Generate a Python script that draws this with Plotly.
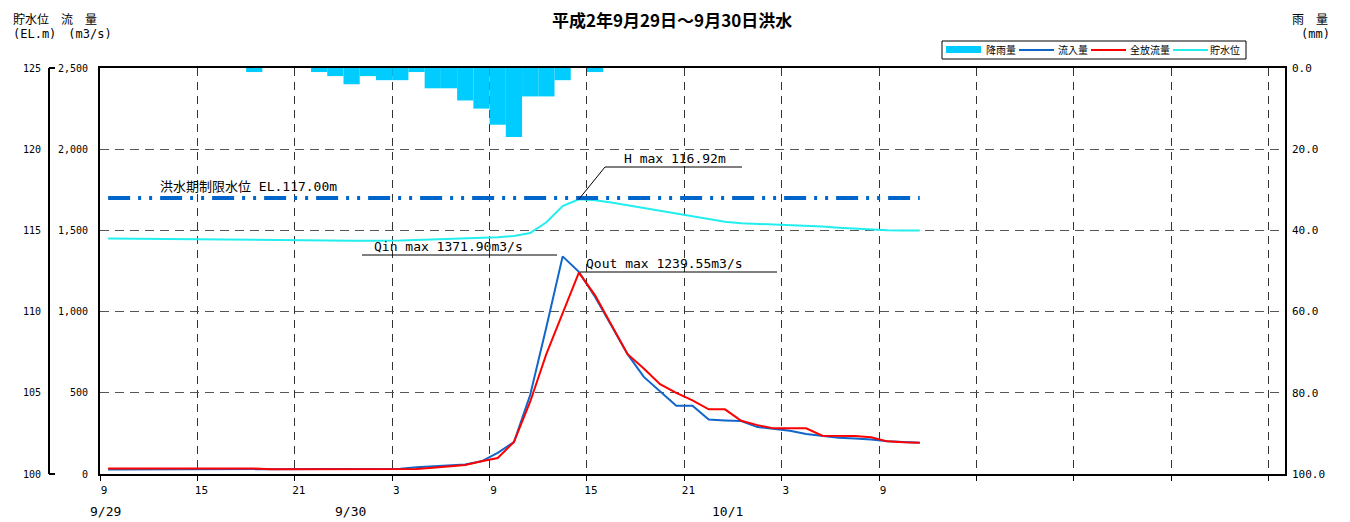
import pandas as pd
import plotly.graph_objects as go

# hourly readings, plotted at the middle of each hour slot
TIMES = pd.date_range("1990-09-29 09:30", periods=51, freq="h")

RAIN = [0, 0, 0, 0, 0, 0, 0, 0, 0, 1,
        0, 0, 0, 1, 2, 4, 2, 3, 3, 1,
        5, 5, 8, 10, 14, 17, 7, 7, 3, 0,
        1, 0, 0, 0, 0, 0, 0, 0, 0, 0,
        0, 0, 0, 0, 0, 0, 0, 0, 0, 0,
        0]

INFLOW = [28, 28, 28, 28, 28, 28, 28, 28, 28, 28,
          28, 28, 28, 28, 28, 28, 28, 28, 32, 42,
          48, 52, 58, 78, 130, 197, 486, 905, 1340, 1245,
          1090, 915, 738, 598, 506, 420, 420, 336, 330, 326,
          289, 279, 266, 246, 236, 223, 219, 213, 201, 195,
          193]

OUTFLOW = [34, 34, 34, 34, 34, 34, 34, 34, 34, 34,
           29, 29, 29, 29, 29, 29, 29, 29, 29, 31,
           38, 46, 55, 78, 98, 197, 445, 740, 990, 1240,
           1100, 915, 738, 650, 553, 500, 453, 398, 398, 328,
           301, 281, 281, 281, 236, 234, 234, 226, 201, 195,
           193]

LEVEL = [114.50, 114.49, 114.48, 114.47, 114.46, 114.44, 114.42, 114.41, 114.40, 114.40,
         114.39, 114.39, 114.38, 114.38, 114.37, 114.37, 114.37, 114.36, 114.38, 114.41,
         114.44, 114.47, 114.50, 114.53, 114.58, 114.66, 114.84, 115.50, 116.50, 116.92,
         116.85, 116.72, 116.55, 116.38, 116.18, 116.00, 115.85, 115.68, 115.53, 115.44,
         115.40, 115.37, 115.35, 115.29, 115.24, 115.17, 115.11, 115.05, 115.01, 114.99,
         114.99]

LIMIT_LEVEL = 117.00
H_MAX, QIN_MAX, QOUT_MAX = 116.92, 1371.90, 1239.55

X_START = pd.Timestamp("1990-09-29 09:00")
X_END = pd.Timestamp("1990-10-02 10:00")
TICKS = pd.date_range("1990-09-29 09:00", periods=13, freq="6h")
TICK_TEXT = ["9", "15", "21", "3", "9", "15", "21", "3", "9", "", "", "", ""]
DATE_LABELS = [("9/29", "1990-09-29 09:20"), ("9/30", "1990-09-30 00:25"), ("10/1", "1990-09-30 23:40")]

JP = "Noto Sans CJK JP"
MONO = "DejaVu Sans Mono, Noto Sans CJK JP"

# pixel helpers for the decorations (plot area spans x 49..1285, y 68..474 on screen)
def px_x(p):
    return (p - 49) / 1236


def px_y(p):
    return (474 - p) / 406


def t_at(p):
    return X_START + pd.Timedelta(hours=(p - 100) / (1185 / 73))


def lvl_at(p):
    return 100 + (474 - p) / 406 * 25


def note(x, y, text, font, xanchor="left"):
    fig.add_annotation(xref="paper", yref="paper", x=px_x(x), y=px_y(y), xanchor=xanchor,
                       yanchor="middle", showarrow=False, text=text, font=font)


fig = go.Figure()
fig.add_bar(x=TIMES, y=RAIN, yaxis="y3", width=3600000, marker_color="#00CCFF",
            marker_line_width=0, name="降雨量")
fig.add_scatter(x=TIMES, y=INFLOW, mode="lines", line=dict(color="#1166CC", width=2), name="流入量")
fig.add_scatter(x=TIMES, y=OUTFLOW, mode="lines", line=dict(color="#FF0000", width=2), name="全放流量")
fig.add_scatter(x=TIMES, y=LEVEL, yaxis="y2", mode="lines", line=dict(color="#22EEEE", width=2), name="貯水位")
fig.add_scatter(x=[TIMES[0], TIMES[-1]], y=[LIMIT_LEVEL, LIMIT_LEVEL], yaxis="y2", mode="lines",
                line=dict(color="#0066CC", width=4, dash="22px,8px,3px,8px,3px,8px"), name="制限水位")

# the page body adds an 8px offset, so the figure is 8px smaller and margins shifted
fig.update_layout(
    width=1342, height=514,
    margin=dict(l=41, r=65, t=60, b=48),
    plot_bgcolor="white", paper_bgcolor="white",
    showlegend=False,
    font=dict(family=MONO, color="black"),
    xaxis=dict(
        type="date", domain=[51 / 1236, 1], range=[X_START, X_END],
        tickvals=TICKS, ticktext=TICK_TEXT, ticks="outside", ticklen=5, tickcolor="black",
        ticklabelshift=4,
        showline=True, mirror=True, linewidth=2, linecolor="black",
        showgrid=True, gridcolor="#333", griddash="8px,6px", gridwidth=1,
        tickfont=dict(size=11),
    ),
    yaxis=dict(
        range=[0, 2500], dtick=500, tickformat=",",
        showline=True, mirror=True, linewidth=2, linecolor="black",
        showgrid=True, gridcolor="#555", griddash="9px,6px", zeroline=False,
        tickfont=dict(size=10), ticklabelstandoff=8,
    ),
    yaxis2=dict(
        overlaying="y", anchor="free", position=0, side="left",
        range=[100, 125], dtick=5, showgrid=False, zeroline=False,
        showline=True, linewidth=2, linecolor="black",
        tickfont=dict(size=10), ticklabelstandoff=5,
    ),
    yaxis3=dict(
        overlaying="y", anchor="x", side="right",
        range=[100, 0], dtick=20, tickformat=".1f", showgrid=False, zeroline=False,
        tickfont=dict(size=11), ticklabelstandoff=6,
    ),
)

# level axis end brackets
for py in (68, 474):
    fig.add_shape(type="line", xref="paper", yref="paper", x0=px_x(49), x1=px_x(55),
                  y0=px_y(py), y1=px_y(py), line=dict(color="black", width=2))

# limit water level label
fig.add_annotation(x=t_at(158), y=LIMIT_LEVEL, yref="y2", xanchor="left", yanchor="bottom",
                   yshift=2, showarrow=False, text="洪水期制限水位 EL.117.00m",
                   font=dict(family=MONO, size=13))

# H max
peak = LEVEL.index(max(LEVEL))
fig.add_shape(type="line", xref="x", yref="y2", x0=TIMES[peak], y0=LEVEL[peak],
              x1=t_at(605), y1=lvl_at(167), line=dict(color="black", width=1))
fig.add_shape(type="line", xref="paper", yref="paper", x0=px_x(605), x1=px_x(742),
              y0=px_y(167), y1=px_y(167), line=dict(color="black", width=1))
note(622, 158, f"H max {H_MAX:.2f}m", dict(family=MONO, size=13))

# Qin max
fig.add_shape(type="line", xref="paper", yref="paper", x0=px_x(362), x1=px_x(557),
              y0=px_y(255), y1=px_y(255), line=dict(color="black", width=1))
note(372, 246, f"Qin max {QIN_MAX:.2f}m3/s", dict(family=MONO, size=13))

# Qout max
fig.add_shape(type="line", xref="paper", yref="paper", x0=px_x(580), x1=px_x(777),
              y0=px_y(272), y1=px_y(272), line=dict(color="black", width=1))
note(584, 263, f"Qout max {QOUT_MAX:.2f}m3/s", dict(family=MONO, size=13))

# date labels under the time axis
for label, when in DATE_LABELS:
    fig.add_annotation(x=pd.Timestamp(when), y=px_y(511), yref="paper", yanchor="middle",
                       showarrow=False, text=label, font=dict(family=MONO, size=13))

# titles and axis headers
note(672, 20, "<b>平成2年9月29日～9月30日洪水</b>", dict(family=JP, size=17), xanchor="center")
note(11, 18, "貯水位　流　量", dict(family=JP, size=12))
note(11, 34, "(EL.m)　(m3/s)", dict(family=MONO, size=12))
note(1290, 18, "雨　量", dict(family=JP, size=12))
note(1299, 34, "(mm)", dict(family=MONO, size=12))

# legend box drawn by hand so the rain sample is a wide bar
fig.add_shape(type="rect", xref="paper", yref="paper", x0=px_x(942), x1=px_x(1246),
              y0=px_y(41), y1=px_y(59), line=dict(color="black", width=1), fillcolor="white")
fig.add_shape(type="rect", xref="paper", yref="paper", x0=px_x(946), x1=px_x(981),
              y0=px_y(46), y1=px_y(53), line=dict(width=0), fillcolor="#00CCFF")
note(984, 50, "降雨量", dict(family=JP, size=10))
legend_items = [(1019, "#1166CC", 1056, "流入量"), (1091, "#FF0000", 1128, "全放流量"),
                (1173, "#22EEEE", 1208, "貯水位")]
for x0, color, tx, label in legend_items:
    fig.add_shape(type="line", xref="paper", yref="paper", x0=px_x(x0), x1=px_x(x0 + 35),
                  y0=px_y(50), y1=px_y(50), line=dict(color=color, width=2))
    note(tx, 50, label, dict(family=JP, size=10))

fig.write_html("out.html")
